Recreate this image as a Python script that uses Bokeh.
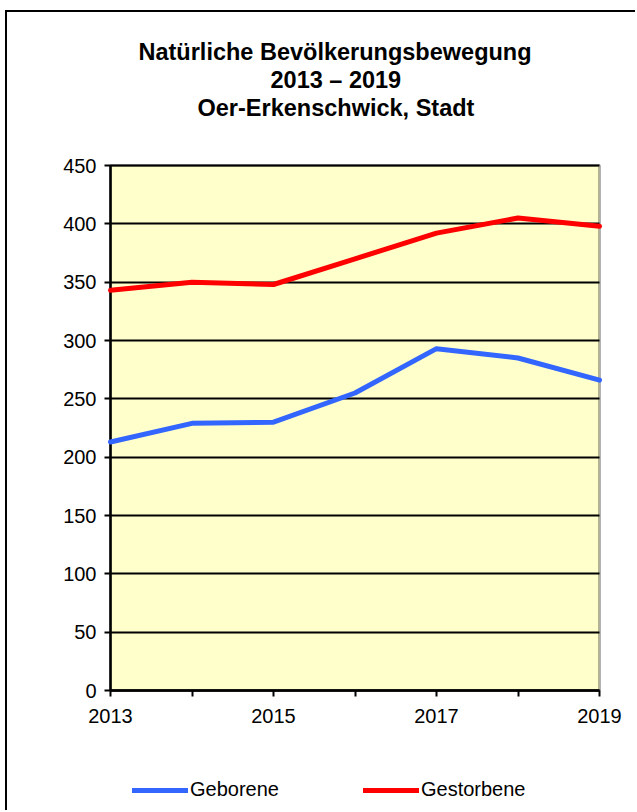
from bokeh.plotting import figure
from bokeh.models import (Range1d, FixedTicker, Legend, LegendItem, Title, ColumnDataSource,
                          BoxAnnotation)
from bokeh.embed import file_html
from bokeh.resources import INLINE

years = [2013, 2014, 2015, 2016, 2017, 2018, 2019]
geborene = [213, 229, 230, 255, 293, 285, 266]
gestorbene = [343, 350, 348, 370, 392, 405, 398]
y_ticks = [0, 50, 100, 150, 200, 250, 300, 350, 400, 450]
x_tick_labels = {2013: "2013", 2014: "", 2015: "2015", 2016: "", 2017: "2017", 2018: "", 2019: "2019"}
title_lines = ["Natürliche Bevölkerungsbewegung", "2013 – 2019", "Oer-Erkenschwick, Stadt"]
series_names = ["Geborene", "Gestorbene"]

FONT = "Liberation Sans"
Y_MIN, Y_MAX = 0, 450
X_MIN, X_MAX = years[0], years[-1]

# layout geometry (pixels)
W, H = 630, 800
PAD_T = 20                          # frame room above the value area (for the top tick label)
B_LEFT, B_RIGHT, B_TOP, B_BOTTOM = 48, 3, 153 - PAD_T, 7
PLOT_W, PLOT_H = 489, 525           # size of the yellow value area
PAD_L, PAD_R = 55, 35               # frame room left/right of the value area
frame_h = H - B_TOP - B_BOTTOM
y_unit = PLOT_H / (Y_MAX - Y_MIN)
y_end = Y_MAX + PAD_T / y_unit
y_start = y_end - frame_h / y_unit
x_unit = PLOT_W / (X_MAX - X_MIN)
x_start = X_MIN - PAD_L / x_unit
x_end = X_MAX + PAD_R / x_unit

p = figure(width=W, height=H, output_backend="svg", toolbar_location=None, title=None,
           x_range=Range1d(x_start, x_end), y_range=Range1d(y_start, y_end),
           min_border_left=B_LEFT, min_border_right=B_RIGHT, min_border_top=B_TOP,
           min_border_bottom=B_BOTTOM)
p.styles = {"margin-left": "5px", "margin-top": "10px",
            "border-left": "2px solid black", "border-top": "2px solid black"}
p.background_fill_color = "white"
p.border_fill_color = "white"
p.outline_line_color = None

# yellow plot area with black border
p.add_layout(BoxAnnotation(bottom=Y_MIN, top=Y_MAX, left=X_MIN, right=X_MAX,
                           fill_color="#FFFFCC", fill_alpha=1.0,
                           line_color="black", line_width=3, level="image"))

# axes, pinned to the value area
p.xaxis.ticker = FixedTicker(ticks=years)
p.xaxis.major_label_overrides = {k: v for k, v in x_tick_labels.items()}
p.xaxis.fixed_location = Y_MIN
p.xaxis.bounds = (X_MIN, X_MAX)
p.yaxis.ticker = FixedTicker(ticks=y_ticks)
p.yaxis.fixed_location = X_MIN
p.yaxis.bounds = (Y_MIN, Y_MAX)
for ax in (p.xaxis[0], p.yaxis[0]):
    ax.axis_line_color = "black"
    ax.axis_line_width = 2.5
    ax.major_tick_line_color = "black"
    ax.major_tick_line_width = 2
    ax.major_tick_in = 0
    ax.major_tick_out = 6
    ax.minor_tick_line_color = None
    ax.major_label_text_font = FONT
    ax.major_label_text_font_size = "20px"
    ax.major_label_text_color = "black"
    ax.level = "underlay"
p.xaxis.major_label_standoff = 12
p.yaxis.major_label_standoff = 8
# horizontal grid lines: y ticks running across the value area only
p.yaxis.major_tick_in = PLOT_W

p.xgrid.grid_line_color = None
p.ygrid.grid_line_color = None

src = ColumnDataSource(dict(x=years, g=geborene, s=gestorbene))
r1 = p.line("x", "g", source=src, line_color="#3366FF", line_width=5, line_cap="round", line_join="round")
r2 = p.line("x", "s", source=src, line_color="#FF0000", line_width=5, line_cap="round", line_join="round")

legend = Legend(items=[LegendItem(label=series_names[0], renderers=[r1]),
                       LegendItem(label=series_names[1], renderers=[r2])],
                orientation="horizontal", location=(PAD_L + 22, 4),
                glyph_width=56, glyph_height=20, label_standoff=2, spacing=84,
                padding=0, margin=0, border_line_alpha=0, background_fill_alpha=0,
                label_text_font=FONT, label_text_font_size="20px", label_text_color="black")
p.add_layout(legend, "center")

# title lines: spacer closest to the frame, then lines 3, 2, 1
p.add_layout(Title(text=" ", text_font_size="21px", text_line_height=1.0, standoff=0,
                   text_font=FONT), "above")
offsets = [28, 160, 87]
for i in (2, 1, 0):
    p.add_layout(Title(text=title_lines[i], align="left", offset=PAD_L + offsets[i], standoff=0,
                       text_font=FONT, text_font_size="23.5px", text_font_style="bold",
                       text_color="black"), "above")

open("out.html", "w").write(file_html(p, INLINE))
